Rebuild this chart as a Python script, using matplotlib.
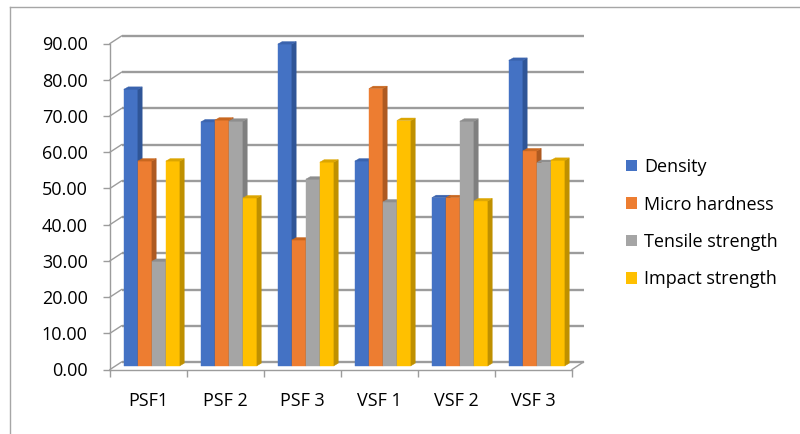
import matplotlib
matplotlib.use("Agg")
import matplotlib.pyplot as plt
from matplotlib.patches import Polygon, Patch
from matplotlib.lines import Line2D
import numpy as np

plt.rcParams['font.family'] = ['Open Sans', 'DejaVu Sans']

# Data
samples = ['PSF1', 'PSF 2', 'PSF 3', 'VSF 1', 'VSF 2', 'VSF 3']
density = [76.3, 67.3, 88.8, 56.5, 46.4, 84.3]
micro_hardness = [56.5, 67.8, 34.7, 76.5, 46.4, 59.3]
tensile_strength = [28.8, 67.5, 51.5, 45.2, 67.5, 56.1]
impact_strength = [56.5, 46.3, 56.2, 67.7, 45.5, 56.7]

series = [density, micro_hardness, tensile_strength, impact_strength]
names = ['Density', 'Micro hardness', 'Tensile strength', 'Impact strength']
front = ['#4472C4', '#ED7D31', '#A5A5A5', '#FFC000']
side = ['#2F5597', '#AE5A21', '#7F7F7F', '#BF9000']
top = ['#3A63AE', '#C9671F', '#8E8E8E', '#DCA500']

W, H = 800, 434
fig = plt.figure(figsize=(W / 100, H / 100), dpi=100)
ax = fig.add_axes([110 / W, (H - 369.5) / H, 462 / W, 326 / H])
ax.set_xlim(0, 6)
ax.set_ylim(0, 90)

grid_c = '#9c9c9c'
# depth of the back wall and of the bars, in data units
wx, wy = 11.5 / 77, 7.5 / 3.622
bx, by = 4.3 / 77, 2.5 / 3.622
base = wy / 2

# back wall gridlines and left wall
for v in range(0, 100, 10):
    ax.plot([wx, 6 + wx], [v + wy, v + wy], color=grid_c, lw=1.7, zorder=1,
            clip_on=False, solid_capstyle='butt')
    ax.plot([0, wx], [v, v + wy], color=grid_c, lw=1.0, zorder=1, clip_on=False)
ax.plot([6, 6 + wx], [0, wy], color=grid_c, lw=1.0, zorder=1, clip_on=False)

# bars with side and top faces
n = len(samples)
bw = 0.182
x0 = np.arange(n) + 0.18
for j, vals in enumerate(series):
    xs = x0 + j * bw
    ax.bar(xs, vals, width=bw, bottom=base, align='edge', color=front[j],
           edgecolor=front[j], lw=0.3, zorder=3 + j, clip_on=False)
    for x, v in zip(xs, vals):
        y1 = base + v
        sd = Polygon([(x + bw, base), (x + bw + bx, base + by),
                      (x + bw + bx, y1 + by), (x + bw, y1)],
                     closed=True, fc=side[j], ec=side[j], lw=0.3,
                     zorder=3.5 + j, clip_on=False)
        tp = Polygon([(x, y1), (x + bx, y1 + by), (x + bw + bx, y1 + by),
                      (x + bw, y1)], closed=True, fc=top[j], ec=top[j],
                     lw=0.3, zorder=3.5 + j, clip_on=False)
        ax.add_patch(sd)
        ax.add_patch(tp)

# axes
for s in ['top', 'right']:
    ax.spines[s].set_visible(False)
for s in ['left', 'bottom']:
    ax.spines[s].set_color(grid_c)
    ax.spines[s].set_linewidth(1.0)
ax.set_yticks(range(0, 100, 10))
ax.set_yticklabels(['%.2f' % v for v in range(0, 100, 10)])
ax.set_xticks(range(0, n + 1))
ax.set_xticklabels([])
ax.tick_params(axis='y', length=5, width=1, color=grid_c, pad=11,
               labelsize=13, labelcolor='#000000')
ax.tick_params(axis='x', length=5, width=1, color=grid_c)
ax.patch.set_visible(False)

for i, name in enumerate(samples):
    ax.text(i + 0.5, -8.6, name, ha='center', va='center', fontsize=13,
            color='#000000', clip_on=False)

# legend
handles = [Patch(facecolor=c, edgecolor='none') for c in front]
fig.legend(handles, names, loc='upper left',
           bbox_to_anchor=(626 / W, (H - 158) / H), frameon=False,
           fontsize=13, handlelength=0.62, handleheight=0.62,
           handletextpad=0.4, labelspacing=1.08, borderpad=0,
           borderaxespad=0)

# chart border
fig.add_artist(Line2D([10 / W, 1], [(H - 7) / H, (H - 7) / H],
                      transform=fig.transFigure, color='#a6a6a6', lw=1))
fig.add_artist(Line2D([10 / W, 10 / W], [0, (H - 7) / H],
                      transform=fig.transFigure, color='#a6a6a6', lw=1))

fig.savefig('out.png', dpi=100, facecolor='white')
